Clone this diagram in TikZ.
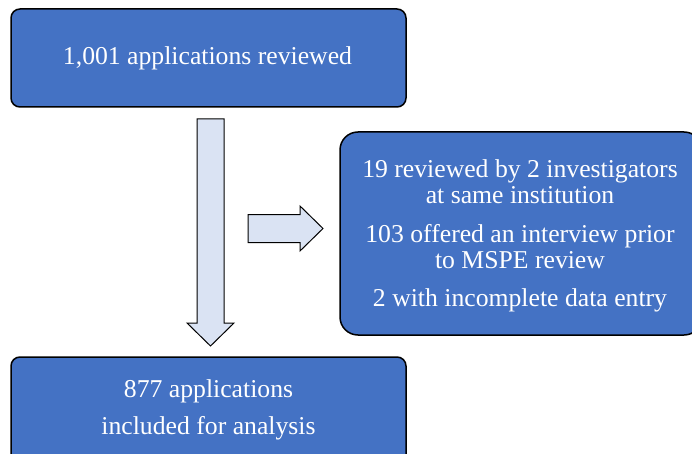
\documentclass[tikz,border=0pt]{standalone}
\usepackage{fontspec}
\setmainfont{Liberation Serif}
\newfontfamily\boxfont{Liberation Serif}
\definecolor{boxblue}{HTML}{4472C4}
\definecolor{arrowfill}{HTML}{DAE3F3}
\begin{document}
\begin{tikzpicture}[x=1pt,y=-1pt,
  bluebox/.style={draw=black,line width=1.5pt,fill=boxblue,inner sep=0pt},
  txt/.style={text=white,anchor=base,inner sep=0pt,font=\boxfont\fontsize{25.7}{27}\selectfont},
  blockarrow/.style={draw=black,line width=1pt,fill=arrowfill,line join=miter}]
\useasboundingbox (0,0) rectangle (692,454);
% boxes
\node[bluebox,rounded corners=9pt,minimum width=395pt,minimum height=98pt] (top) at (208.5,58) {};
\node[bluebox,rounded corners=18pt,minimum width=362pt,minimum height=203pt] (excl) at (521,233.5) {};
\node[bluebox,rounded corners=9pt,minimum width=395pt,minimum height=110pt] (bot) at (208.5,412) {};
% texts
\node[txt] (t1) at (207.5,65) {1,001 applications reviewed};
\node[txt] (e1) at (520,177.5) {19 reviewed by 2 investigators};
\node[txt] (e2) at (520,204) {at same institution};
\node[txt] (e3) at (520,242) {103 offered an interview prior};
\node[txt] (e4) at (520,268) {to MSPE review};
\node[txt] (e5) at (520,306.5) {2 with incomplete data entry};
\node[txt] (b1) at (208.5,397) {877 applications};
\node[txt] (b2) at (208.5,434) {included for analysis};
% block arrows
\draw[blockarrow] (197,119) -- (224,119) -- (224,323) -- (234,323) -- (210.5,346) -- (187,323) -- (197,323) -- cycle;
\draw[blockarrow] (248,214.5) -- (300,214.5) -- (300,206) -- (323,228.5) -- (300,251) -- (300,242.5) -- (248,242.5) -- cycle;
\end{tikzpicture}
\end{document}
